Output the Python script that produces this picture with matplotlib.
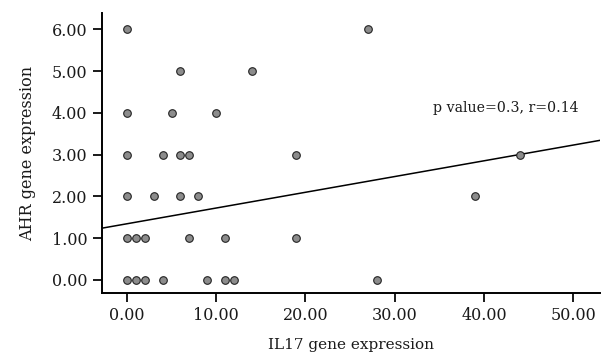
import matplotlib
matplotlib.use('Agg')
import matplotlib.pyplot as plt
import numpy as np

# values
il17 = [0, 6, 14, 0, 5, 10, 0, 4, 6, 7, 19, 27, 44, 0, 3, 6, 8, 39,
        0, 1, 2, 7, 11, 19, 0, 1, 2, 4, 9, 11, 12, 28]
ahr = [6, 5, 5, 4, 4, 4, 3, 3, 3, 3, 3, 6, 3, 2, 2, 2, 2, 2,
       1, 1, 1, 1, 1, 1, 0, 0, 0, 0, 0, 0, 0, 0]
fit_intercept = 1.345
fit_slope = 0.0377
x_ticks = [0, 10, 20, 30, 40, 50]
y_ticks = [0, 1, 2, 3, 4, 5, 6]
stats_text = 'p value=0.3, r=0.14'

plt.rcParams['font.family'] = ['DejaVu Serif']

fig = plt.figure(figsize=(6.03, 3.55), dpi=100)
ax = fig.add_axes([0.169, 0.175, 0.826, 0.788])

ax.scatter(il17, ahr, s=30, facecolor='#8c8c8c', edgecolor='#222222',
           linewidth=0.8, zorder=3)

xlim = (-2.8, 53.0)
xs = np.array(xlim)
ax.plot(xs, fit_intercept + fit_slope * xs, color='black', linewidth=1.1, zorder=2)

ax.set_xlim(*xlim)
ax.set_ylim(-0.31, 6.39)
ax.set_xticks(x_ticks)
ax.set_xticklabels([f'{v:.2f}' for v in x_ticks])
ax.set_yticks(y_ticks)
ax.set_yticklabels([f'{v:.2f}' for v in y_ticks])

for s in ['top', 'right']:
    ax.spines[s].set_visible(False)
for s in ['left', 'bottom']:
    ax.spines[s].set_linewidth(1.4)
ax.tick_params(direction='out', length=6.5, width=1.4, pad=4, labelsize=11.5,
               colors='#1a1a1a')

ax.set_xlabel('IL17 gene expression', fontsize=11, color='#1a1a1a', labelpad=10)
ax.set_ylabel('AHR gene expression', fontsize=11.5, color='#1a1a1a', labelpad=11)

ax.text(34.3, 4.11, stats_text, fontsize=10.2, va='center', ha='left', color='#1a1a1a')

fig.savefig('out.png', dpi=100)
